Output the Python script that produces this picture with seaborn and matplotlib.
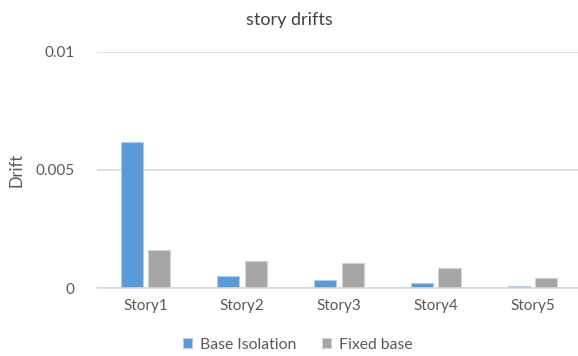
import matplotlib
matplotlib.use("Agg")
import matplotlib.pyplot as plt
import seaborn as sns
import pandas as pd

stories = ["Story1", "Story2", "Story3", "Story4", "Story5"]
base_isolation = [0.00616, 0.00052, 0.00034, 0.00022, 0.00008]
fixed_base = [0.00160, 0.00116, 0.00104, 0.00083, 0.00041]
series_names = ["Base Isolation", "Fixed base"]
y_ticks = [0, 0.005, 0.01]
y_tick_labels = ["0", "0.005", "0.01"]

df = pd.DataFrame({
    "Story": stories * 2,
    "Drift": base_isolation + fixed_base,
    "Series": [series_names[0]] * len(stories) + [series_names[1]] * len(stories),
})

sns.set_theme(style="white")
plt.rcParams["font.family"] = ["Lato", "DejaVu Sans"]
text_color = "#595959"
grid_color = "#D9D9D9"

fig = plt.figure(figsize=(5.78, 3.56), dpi=100)
ax = fig.add_axes([97 / 578, 68 / 356, 481 / 578, 236.3 / 356])

sns.barplot(
    data=df, x="Story", y="Drift", hue="Series", order=stories,
    hue_order=series_names, palette=["#5B9BD5", "#A5A5A5"], saturation=1,
    width=0.57, gap=0.2, linewidth=0.8,
    ax=ax, legend=True,
)

# soft light outline around each bar
for patch in ax.patches:
    r, g, b, _ = patch.get_facecolor()
    patch.set_edgecolor((r + (1 - r) * 0.5, g + (1 - g) * 0.5, b + (1 - b) * 0.5))

ax.set_ylim(0, 0.01)
ax.set_xlim(-0.5, 4.47)
ax.set_yticks(y_ticks)
ax.set_yticklabels(y_tick_labels)
ax.yaxis.grid(True, color=grid_color, linewidth=1.2)
ax.set_axisbelow(True)
for side in ["top", "right", "left"]:
    ax.spines[side].set_visible(False)
ax.spines["bottom"].set_color(grid_color)
ax.spines["bottom"].set_linewidth(1.2)
ax.tick_params(axis="both", length=0, labelsize=11, colors=text_color, pad=8)
ax.tick_params(axis="y", pad=16)
ax.set_xlabel("")
ax.set_ylabel("Drift", fontsize=12, color=text_color, labelpad=8)

fig.text(0.5, 0.945, "story drifts", ha="center", va="center",
         fontsize=13, color="#404040")

handles, labels = ax.get_legend_handles_labels()
ax.legend_.remove()
fig.legend(handles, labels, loc="center", bbox_to_anchor=(0.515, 0.032),
           ncol=2, frameon=False, fontsize=11.3, labelcolor=text_color,
           handlelength=0.6, handleheight=0.6, handletextpad=0.5,
           columnspacing=1.6)

fig.savefig("out.png", dpi=100)
